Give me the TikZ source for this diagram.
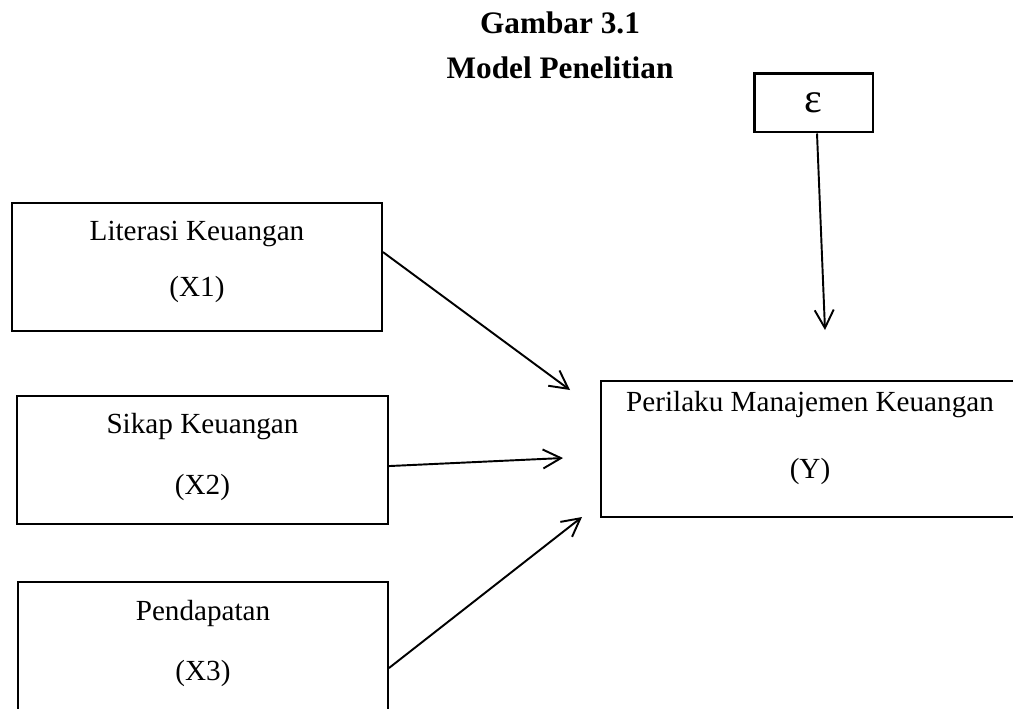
\documentclass[tikz,border=0pt]{standalone}
\usepackage{fontspec}
\setmainfont{Liberation Serif}
\usetikzlibrary{arrows.meta, calc}
\tikzstyle{arrow} = [line width=1.1pt, -{Straight Barb[length=3.6mm, width=3.8mm]}]
\tikzstyle{var} = [rectangle, draw, line width=1.1pt, align=center, font=\fontsize{16.6}{31.7}\selectfont]
\tikzstyle{judul} = [anchor=base, font=\fontsize{17.8}{21}\selectfont\bfseries]

\begin{document}
\begin{tikzpicture}[x=0.02cm, y=-0.02cm]
    \useasboundingbox (0,0) rectangle (1013,708);

      % Title
      \node[judul] (gbr) at (560,33) {Gambar 3.1};
      \node[judul] (model) at (560,78) {Model Penelitian};

      % Nodes
      \node[var, minimum width=7.4cm, minimum height=2.56cm, text depth=9.3pt] (lit) at (197,267) {Literasi Keuangan\\(X1)};
      \node[var, minimum width=7.42cm, minimum height=2.56cm, text depth=7pt] (sikap) at (202.5,460) {Sikap Keuangan\\[3.5pt](X2)};
      \node[var, minimum width=7.4cm, minimum height=2.6cm, text depth=7.6pt] (pend) at (203,647) {Pendapatan\\[2pt](X3)};
      \node[var, minimum width=8.36cm, minimum height=2.72cm, text depth=16pt] (pmk) at (810,449) {Perilaku Manajemen Keuangan\\[6pt](Y)};
      \node[var, line width=1.7pt, minimum width=2.38cm, minimum height=1.18cm, font=\fontsize{24}{28}\selectfont] (eps) at (813.5,102.5) {ε};

      % Arrow tips
      \coordinate (t1) at (570,390);
      \coordinate (t2) at (563,458);
      \coordinate (t3) at (582,517);
      \coordinate (t4) at (825,330);

      % Edges
      \draw[arrow] ($(lit.north east)+(0,50)$) -- (t1);
      \draw[arrow] ($(sikap.north east)+(0,71)$) -- (t2);
      \draw[arrow] ($(pend.north east)+(0,87)$) -- (t3);
      \draw[arrow] ($(eps.south)+(3.5,0)$) -- (t4);

  \end{tikzpicture}
\end{document}
